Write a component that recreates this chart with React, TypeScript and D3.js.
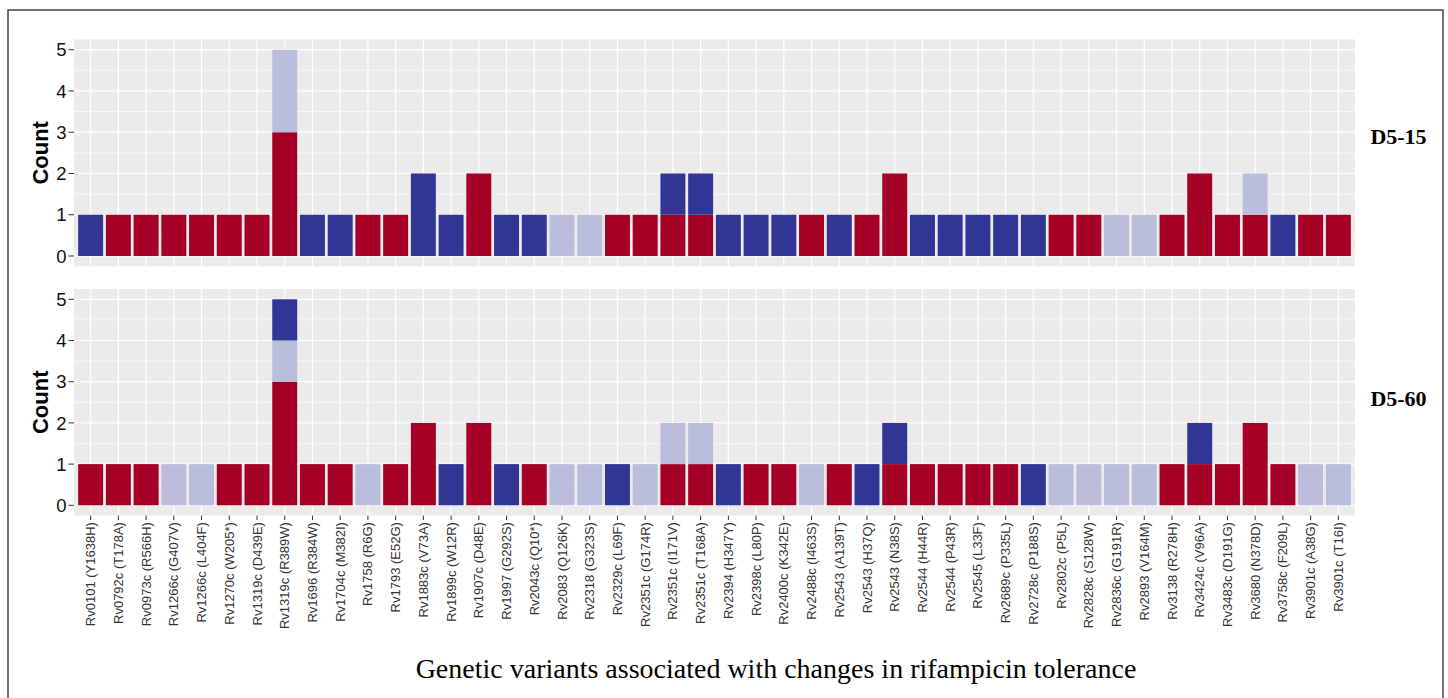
import React from 'react';
import * as d3 from 'd3';

const variants = [
  'Rv0101 (Y1638H)', 'Rv0792c (T178A)', 'Rv0973c (R566H)', 'Rv1266c (G407V)', 'Rv1266c (L404F)',
  'Rv1270c (W205*)', 'Rv1319c (D439E)', 'Rv1319c (R389W)', 'Rv1696 (R384W)', 'Rv1704c (M382I)',
  'Rv1758 (R6G)', 'Rv1793 (E52G)', 'Rv1883c (V73A)', 'Rv1899c (W12R)', 'Rv1907c (D48E)',
  'Rv1997 (G292S)', 'Rv2043c (Q10*)', 'Rv2083 (Q126K)', 'Rv2318 (G323S)', 'Rv2329c (L69F)',
  'Rv2351c (G174R)', 'Rv2351c (I171V)', 'Rv2351c (T168A)', 'Rv2394 (H347Y)', 'Rv2398c (L80P)',
  'Rv2400c (K342E)', 'Rv2488c (I463S)', 'Rv2543 (A139T)', 'Rv2543 (H37Q)', 'Rv2543 (N38S)',
  'Rv2544 (H44R)', 'Rv2544 (P43R)', 'Rv2545 (L33F)', 'Rv2689c (P335L)', 'Rv2728c (P188S)',
  'Rv2802c (P5L)', 'Rv2828c (S128W)', 'Rv2836c (G191R)', 'Rv2893 (V164M)', 'Rv3138 (R278H)',
  'Rv3424c (V96A)', 'Rv3483c (D191G)', 'Rv3680 (N378D)', 'Rv3758c (F209L)', 'Rv3901c (A38G)',
  'Rv3901c (T16I)',
];

const yTicks = [0, 1, 2, 3, 4, 5];
const yMinor = [0.5, 1.5, 2.5, 3.5, 4.5];
const seriesKeys = ['increased', 'unchanged', 'decreased'];
const seriesColors = ['#A50026', '#BBBDDC', '#313695'];
const panelNames = ['D5-15', 'D5-60'];

// D5-15
const d515Increased = [0,1,1,1,1,1,1,3,0,0,1,1,0,0,2,0,0,0,0,1,1,1,1,0,0,0,1,0,1,2,0,0,0,0,0,1,1,0,0,1,2,1,1,0,1,1];
const d515Unchanged = [0,0,0,0,0,0,0,2,0,0,0,0,0,0,0,0,0,1,1,0,0,0,0,0,0,0,0,0,0,0,0,0,0,0,0,0,0,1,1,0,0,0,1,0,0,0];
const d515Decreased = [1,0,0,0,0,0,0,0,1,1,0,0,2,1,0,1,1,0,0,0,0,1,1,1,1,1,0,1,0,0,1,1,1,1,1,0,0,0,0,0,0,0,0,1,0,0];

// D5-60
const d560Increased = [1,1,1,0,0,1,1,3,1,1,0,1,2,0,2,0,1,0,0,0,0,1,1,0,1,1,0,1,0,1,1,1,1,1,0,0,0,0,0,1,1,1,2,1,0,0];
const d560Unchanged = [0,0,0,1,1,0,0,1,0,0,1,0,0,0,0,0,0,1,1,0,1,1,1,0,0,0,1,0,0,0,0,0,0,0,0,1,1,1,1,0,0,0,0,0,1,1];
const d560Decreased = [0,0,0,0,0,0,0,1,0,0,0,0,0,1,0,1,0,0,0,1,0,0,0,1,0,0,0,0,1,1,0,0,0,0,1,0,0,0,0,0,1,0,0,0,0,0];

const panelData = [
  [d515Increased, d515Unchanged, d515Decreased],
  [d560Increased, d560Unchanged, d560Decreased],
];

const W = 1448;
const H = 698;
const panelLeft = 74;
const panelRight = 1355;
const panelBoxes = [
  { top: 39.4, bottom: 266.3 },
  { top: 289, bottom: 515.6 },
];
const stripY = [144, 405.7];

export default function App() {
  const x = d3.scalePoint<string>().domain(variants).range([panelLeft, panelRight]).padding(0.6);
  const step = x.step();
  const barW = step * 0.9;
  const stack = d3.stack<any>().keys(seriesKeys);

  return (
    <svg width={W} height={H} style={{ position: 'absolute', left: 0, top: 0, background: '#fff' }}>
      <rect x={0} y={0} width={W} height={H} fill="#fff" />
      <rect x={8} y={10} width={1435} height={720} fill="none" stroke="#444" strokeWidth={1.5} />
      {panelBoxes.map((pb, p) => {
        const y = d3.scaleLinear().domain([-0.25, 5.25]).range([pb.bottom, pb.top]);
        const rows = variants.map((v, i) => ({
          variant: v,
          increased: panelData[p][0][i],
          unchanged: panelData[p][1][i],
          decreased: panelData[p][2][i],
        }));
        const stacked = stack(rows);
        const isBottom = p === panelBoxes.length - 1;
        return (
          <g key={p}>
            <rect x={panelLeft} y={pb.top} width={panelRight - panelLeft} height={pb.bottom - pb.top} fill="#EBEBEB" />
            {yMinor.map((t) => (
              <line key={'m' + t} x1={panelLeft} x2={panelRight} y1={y(t)} y2={y(t)} stroke="#fff" strokeWidth={0.6} />
            ))}
            {yTicks.map((t) => (
              <line key={'g' + t} x1={panelLeft} x2={panelRight} y1={y(t)} y2={y(t)} stroke="#fff" strokeWidth={1.2} />
            ))}
            {variants.map((v) => (
              <line key={'v' + v} x1={x(v)} x2={x(v)} y1={pb.top} y2={pb.bottom} stroke="#fff" strokeWidth={1.2} />
            ))}
            {stacked.map((s, si) => (
              <g key={s.key} fill={seriesColors[si]}>
                {s.map((d, i) =>
                  d[1] - d[0] > 0 ? (
                    <rect
                      key={i}
                      x={(x(variants[i]) as number) - barW / 2}
                      y={y(d[1])}
                      width={barW}
                      height={y(d[0]) - y(d[1])}
                    />
                  ) : null
                )}
              </g>
            ))}
            {yTicks.map((t) => (
              <g key={'t' + t}>
                <line x1={panelLeft - 5.5} x2={panelLeft} y1={y(t)} y2={y(t)} stroke="#333" strokeWidth={1} />
                <text
                  x={panelLeft - 7.5}
                  y={y(t)}
                  dy="0.36em"
                  textAnchor="end"
                  fontFamily="Liberation Sans, Arial, sans-serif"
                  fontSize={18.5}
                  fill="#111"
                >
                  {t}
                </text>
              </g>
            ))}
            <text
              transform={`translate(48,${(pb.top + pb.bottom) / 2}) rotate(-90)`}
              textAnchor="middle"
              fontFamily="Liberation Sans, Arial, sans-serif"
              fontWeight="bold"
              fontSize={22}
              fill="#000"
            >
              Count
            </text>
            <text
              x={1398.5}
              y={stripY[p]}
              textAnchor="middle"
              fontFamily="Liberation Serif, Times New Roman, serif"
              fontWeight="bold"
              fontSize={22}
              fill="#000"
            >
              {panelNames[p]}
            </text>
            {isBottom &&
              variants.map((v) => (
                <g key={'xl' + v} transform={`translate(${x(v)},${pb.bottom})`}>
                  <line y1={0} y2={4.5} stroke="#333" strokeWidth={1} />
                  <text
                    transform="translate(0,6.5) rotate(-90)"
                    dy="0.35em"
                    textAnchor="end"
                    fontFamily="Liberation Sans, Arial, sans-serif"
                    fontSize={13}
                    fill="#333"
                  >
                    {v}
                  </text>
                </g>
              ))}
          </g>
        );
      })}
      <text
        x={776}
        y={678}
        textAnchor="middle"
        fontFamily="Liberation Serif, Times New Roman, serif"
        fontSize={28}
        fill="#000"
      >
        Genetic variants associated with changes in rifampicin tolerance
      </text>
    </svg>
  );
}
